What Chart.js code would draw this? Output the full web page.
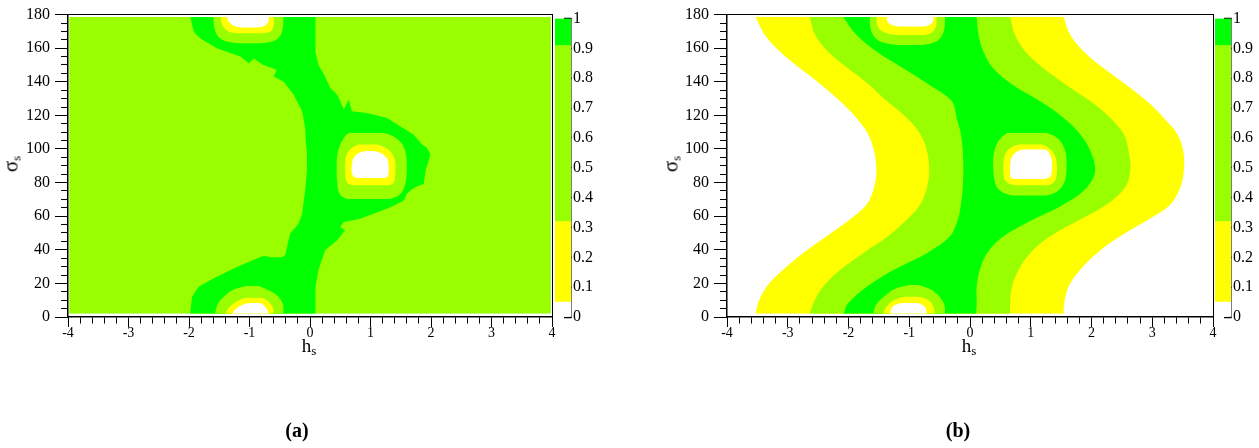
<!DOCTYPE html>
<html lang="en">
<head>
<meta charset="UTF-8">
<title>h_s - sigma_s contours</title>
<script src="https://cdn.jsdelivr.net/npm/chart.js"></script>
<style>
  body { margin: 0; width: 1259px; height: 448px; background: #fff; position: relative; overflow: hidden; }
  canvas { position: absolute; top: 0; }
  .t { position: absolute; font-family: 'Liberation Serif', 'Times New Roman', serif; color: #000; line-height: 1; white-space: nowrap; }
  .sig { font-size: 21px; transform: translate(-50%, -50%) rotate(-90deg); }
  .hs { font-size: 19px; transform: translateX(-50%); }
  .sub { font-size: 13px; position: relative; top: 3px; }
  .cap { font-size: 20px; font-weight: bold; transform: translateX(-50%); }
</style>
</head>
<body>
<canvas id="plotA" width="560" height="345" style="left:0px"></canvas>
<canvas id="barA" width="50" height="345" style="left:555px"></canvas>
<canvas id="plotB" width="562" height="345" style="left:659px"></canvas>
<canvas id="barB" width="50" height="345" style="left:1215px"></canvas>

<div class="t sig" style="left:11px; top:164px">σ<span class="sub">s</span></div>
<div class="t hs" style="left:309px; top:336px">h<span class="sub">s</span></div>
<div class="t sig" style="left:671px; top:164px">σ<span class="sub">s</span></div>
<div class="t hs" style="left:969px; top:336px">h<span class="sub">s</span></div>
<div class="t cap" style="left:297px; top:420px">(a)</div>
<div class="t cap" style="left:958px; top:420px">(b)</div>

<script>
const SERIF = "'Liberation Serif', 'Times New Roman', serif";
const WHITE = '#ffffff', YELLOW = '#ffff00', LIME = '#99ff00', GREEN = '#00ff00';

// colour scale
const levels = [0, 0.05, 0.32, 0.91, 1];
const levelColors = [WHITE, YELLOW, LIME, GREEN];

// ---- panel (a) ----
const aBaseSig = [2, 178.6];
const aBaseL = [-3.98, -3.98];
const aBaseR = [3.98, 3.98];

const aGreenLSig = [2, 12, 18, 23, 28.8, 34.1, 36.5, 35.6, 35.6, 36.8, 41.7, 49.6, 55.5, 61.4, 75.2, 87, 97, 105, 112.6, 122.5, 132.3, 140.2, 143.1, 147.1, 150, 153.9, 151, 155, 159.9, 165.8, 169.7, 178.6];
const aGreenL = [-1.98, -1.95, -1.84, -1.59, -1.26, -0.93, -0.76, -0.66, -0.47, -0.41, -0.38, -0.33, -0.19, -0.13, -0.08, -0.05, -0.05, -0.07, -0.08, -0.13, -0.27, -0.44, -0.60, -0.55, -0.77, -0.93, -1.01, -1.15, -1.54, -1.81, -1.92, -1.98];
const aGreenRSig = [2, 18, 28, 39.8, 45.7, 51.6, 53.5, 56.5, 58.5, 61.4, 65.3, 69.3, 73.3, 76.2, 78.2, 79.2, 87, 92.9, 96.9, 100.8, 102.8, 108.7, 113.6, 118.5, 121.5, 122.5, 129.4, 123.5, 128.4, 132.3, 136.2, 145.1, 150, 157.9, 178.6];
const aGreenR = [0.09, 0.09, 0.14, 0.25, 0.45, 0.58, 0.50, 0.56, 0.83, 1.05, 1.33, 1.55, 1.60, 1.69, 1.80, 1.88, 1.91, 1.96, 1.99, 1.93, 1.85, 1.71, 1.49, 1.27, 0.94, 0.69, 0.64, 0.56, 0.50, 0.45, 0.34, 0.22, 0.14, 0.09, 0.09];

const aMidLimeSig = [70.3, 72, 75, 80, 88, 96, 102, 106, 108.5, 109.6];
const aMidLimeL = [0.61, 0.52, 0.47, 0.45, 0.44, 0.45, 0.49, 0.55, 0.60, 0.66];
const aMidLimeR = [1.33, 1.45, 1.53, 1.58, 1.60, 1.59, 1.54, 1.44, 1.32, 1.20];
const aMidYelSig = [78.2, 79.5, 82, 86, 92, 97, 100, 102, 102.8];
const aMidYelL = [0.72, 0.63, 0.59, 0.58, 0.58, 0.61, 0.67, 0.75, 0.82];
const aMidYelR = [1.30, 1.37, 1.40, 1.41, 1.41, 1.36, 1.28, 1.18, 1.10];
const aMidWhiteSig = [82.7, 83.5, 86, 90, 94, 96.5, 98, 98.8];
const aMidWhiteL = [0.80, 0.72, 0.69, 0.69, 0.71, 0.76, 0.84, 0.92];
const aMidWhiteR = [1.22, 1.28, 1.30, 1.30, 1.28, 1.22, 1.13, 1.05];

const aTopLimeSig = [162.8, 164, 167, 172, 178.6];
const aTopLimeL = [-1.15, -1.38, -1.52, -1.58, -1.60];
const aTopLimeR = [-0.85, -0.62, -0.50, -0.45, -0.44];
const aTopYelSig = [168.7, 170, 174, 178.6];
const aTopYelL = [-1.15, -1.35, -1.45, -1.48];
const aTopYelR = [-0.85, -0.65, -0.60, -0.60];
const aTopWhiteSig = [172.2, 173, 175, 177, 178.6];
const aTopWhiteL = [-1.12, -1.24, -1.32, -1.36, -1.37];
const aTopWhiteR = [-0.88, -0.76, -0.70, -0.68, -0.68];

const aBotLimeSig = [2, 8, 13, 16.5, 18.5];
const aBotLimeL = [-1.57, -1.52, -1.40, -1.25, -1.05];
const aBotLimeR = [-0.44, -0.45, -0.55, -0.72, -0.85];
const aBotYelSig = [2, 6, 9.5, 11.6];
const aBotYelL = [-1.40, -1.33, -1.20, -1.05];
const aBotYelR = [-0.60, -0.62, -0.70, -0.80];
const aBotWhiteSig = [2, 5, 7.5, 8.3];
const aBotWhiteL = [-1.29, -1.22, -1.10, -1.00];
const aBotWhiteR = [-0.68, -0.72, -0.78, -0.85];

// ---- panel (b) ----
const bandSig = [2, 8, 18, 28, 38, 48, 58, 67, 77, 87, 99, 109, 118.5, 128.5, 138, 148, 158, 168, 178.6];
const bYellowL = [-3.53, -3.49, -3.35, -3.08, -2.75, -2.36, -1.98, -1.70, -1.58, -1.54, -1.58, -1.68, -1.87, -2.14, -2.44, -2.80, -3.13, -3.38, -3.53];
const bYellowR = [1.54, 1.55, 1.62, 1.81, 2.09, 2.47, 2.94, 3.30, 3.46, 3.52, 3.51, 3.41, 3.19, 2.91, 2.58, 2.20, 1.87, 1.65, 1.54];
const bLimeL = [-2.64, -2.58, -2.42, -2.14, -1.76, -1.35, -1.04, -0.82, -0.71, -0.67, -0.71, -0.82, -1.04, -1.37, -1.65, -2.01, -2.34, -2.55, -2.64];
const bLimeR = [0.66, 0.66, 0.69, 0.80, 0.99, 1.32, 1.81, 2.25, 2.55, 2.64, 2.61, 2.53, 2.31, 1.98, 1.59, 1.21, 0.91, 0.74, 0.66];
const bGreenL = [-2.08, -2.01, -1.70, -1.26, -0.71, -0.33, -0.20, -0.15, -0.12, -0.11, -0.12, -0.15, -0.22, -0.30, -0.66, -1.10, -1.54, -1.87, -2.09];
const bGreenR = [0.10, 0.11, 0.11, 0.16, 0.28, 0.55, 1.04, 1.54, 1.92, 2.06, 1.98, 1.81, 1.54, 1.15, 0.71, 0.38, 0.22, 0.14, 0.11];

const bMidLimeSig = [72.2, 74, 77, 82, 90, 97, 103, 107, 109.6];
const bMidLimeL = [0.70, 0.55, 0.45, 0.40, 0.38, 0.39, 0.44, 0.52, 0.62];
const bMidLimeR = [1.25, 1.40, 1.50, 1.57, 1.59, 1.58, 1.52, 1.42, 1.26];
const bMidYelSig = [78.2, 79.5, 82, 86, 91, 96, 99.5, 101.8, 102.8];
const bMidYelL = [0.77, 0.64, 0.57, 0.55, 0.55, 0.57, 0.63, 0.72, 0.82];
const bMidYelR = [1.26, 1.36, 1.41, 1.43, 1.43, 1.40, 1.33, 1.25, 1.18];
const bMidWhiteSig = [82.1, 83, 85, 89, 93, 96.5, 98.8, 99.8];
const bMidWhiteL = [0.71, 0.67, 0.66, 0.66, 0.67, 0.71, 0.79, 0.88];
const bMidWhiteR = [1.21, 1.30, 1.34, 1.35, 1.35, 1.32, 1.28, 1.24];

const bTopLimeSig = [161.9, 163.5, 167, 172, 178.6];
const bTopLimeL = [-1.20, -1.45, -1.58, -1.64, -1.65];
const bTopLimeR = [-0.80, -0.58, -0.47, -0.42, -0.41];
const bTopYelSig = [167.8, 169.5, 173, 178.6];
const bTopYelL = [-1.20, -1.42, -1.52, -1.54];
const bTopYelR = [-0.75, -0.62, -0.56, -0.55];
const bTopWhiteSig = [172.7, 174, 176, 178.6];
const bTopWhiteL = [-1.15, -1.30, -1.36, -1.37];
const bTopWhiteR = [-0.78, -0.66, -0.61, -0.60];

const bBotLimeSig = [2, 7, 12, 16.5, 19.1];
const bBotLimeL = [-1.59, -1.55, -1.42, -1.25, -1.00];
const bBotLimeR = [-0.41, -0.42, -0.50, -0.65, -0.85];
const bBotYelSig = [2, 6, 10, 12.2];
const bBotYelL = [-1.43, -1.38, -1.25, -1.05];
const bBotYelR = [-0.58, -0.60, -0.68, -0.85];
const bBotWhiteSig = [2, 6, 8.3];
const bBotWhiteL = [-1.32, -1.28, -1.15];
const bBotWhiteR = [-0.71, -0.74, -0.85];

// a filled region = left edge + right edge, the right one fills back to the left one
function region(lSig, left, rSig, right, color, tension) {
  const edge = (sig, h) => sig.map((s, i) => ({ x: h[i], y: s }));
  return [
    { data: edge(lSig, left), borderWidth: 0, pointRadius: 0, tension: tension, fill: false },
    { data: edge(rSig, right), borderWidth: 0, pointRadius: 0, tension: tension, fill: '-1', backgroundColor: color }
  ];
}

const isInt = v => Math.abs(v - Math.round(v)) < 1e-6;

function plot(id, layers, padRight) {
  // datasets are painted last-to-first, so the top layer goes first
  const datasets = [];
  layers.slice().reverse().forEach(l => datasets.push(...l));
  return new Chart(document.getElementById(id), {
    type: 'line',
    data: { datasets },
    options: {
      indexAxis: 'y',
      responsive: false,
      animation: false,
      events: [],
      layout: { padding: { top: 12, right: padRight, left: 0, bottom: 0 } },
      plugins: { legend: { display: false }, tooltip: { enabled: false } },
      scales: {
        x: {
          type: 'linear', position: 'bottom', min: -4, max: 4,
          afterFit: s => { s.height = 28; },
          border: { color: '#000', width: 1.5 },
          grid: {
            drawOnChartArea: false, tickLength: 10, tickColor: '#000', tickWidth: 1,
            tickBorderDash: c => isInt(c.tick.value) ? [] : [6, 20]
          },
          ticks: {
            stepSize: 0.2, autoSkip: false, maxRotation: 0, padding: -2.5, color: '#000',
            font: { family: SERIF, size: 14 },
            callback: v => isInt(v) ? String(Math.round(v)) : ''
          }
        },
        y: {
          type: 'linear', position: 'left', min: 0, max: 180,
          afterFit: s => { s.width = 68; },
          border: { color: '#000', width: 1.5 },
          grid: {
            drawOnChartArea: false, tickLength: 13, tickColor: '#000', tickWidth: 1,
            tickBorderDash: c => c.tick.value % 20 === 0 ? [] : [0, 6, 7, 0]
          },
          ticks: {
            stepSize: 5, autoSkip: false, padding: 5, color: '#000',
            font: { family: SERIF, size: 16 },
            callback: v => v % 20 === 0 ? String(v) : ''
          }
        },
        x2: {
          type: 'linear', position: 'top', min: -4, max: 4,
          afterFit: s => { s.height = 0; },
          grid: { display: false, drawTicks: false }, ticks: { display: false },
          border: { color: '#000', width: 1, dash: [1, 1] }
        },
        y2: {
          type: 'linear', position: 'right', min: 0, max: 180,
          afterFit: s => { s.width = 0; },
          grid: { display: false, drawTicks: false }, ticks: { display: false },
          border: { color: '#000', width: 1, dash: [1, 1] }
        }
      }
    }
  });
}

function colorBar(id) {
  const datasets = levelColors.map((c, i) => ({
    data: [[levels[i], levels[i + 1]]],
    backgroundColor: c, borderWidth: 0,
    barPercentage: 1, categoryPercentage: 1, grouped: false
  }));
  return new Chart(document.getElementById(id), {
    type: 'bar',
    data: { labels: [''], datasets },
    options: {
      responsive: false,
      animation: false,
      events: [],
      layout: { padding: { top: 12, bottom: 28, left: 0, right: 0 } },
      plugins: { legend: { display: false }, tooltip: { enabled: false } },
      scales: {
        x: { display: false },
        y: {
          type: 'linear', position: 'right', min: 0, max: 1,
          afterFit: s => { s.width = 34; },
          border: { color: '#000', width: 1.5 },
          grid: { drawOnChartArea: false, tickLength: -7, tickColor: '#000', tickWidth: 1.5 },
          ticks: {
            stepSize: 0.1, autoSkip: false, padding: 9, color: '#000',
            font: { family: SERIF, size: 16 },
            callback: v => String(+v.toFixed(1))
          }
        }
      }
    }
  });
}

plot('plotA', [
  region(aBaseSig, aBaseL, aBaseSig, aBaseR, LIME, 0),
  region(aGreenLSig, aGreenL, aGreenRSig, aGreenR, GREEN, 0),
  region(aMidLimeSig, aMidLimeL, aMidLimeSig, aMidLimeR, LIME, 0.35),
  region(aMidYelSig, aMidYelL, aMidYelSig, aMidYelR, YELLOW, 0.35),
  region(aMidWhiteSig, aMidWhiteL, aMidWhiteSig, aMidWhiteR, WHITE, 0.35),
  region(aTopLimeSig, aTopLimeL, aTopLimeSig, aTopLimeR, LIME, 0.35),
  region(aTopYelSig, aTopYelL, aTopYelSig, aTopYelR, YELLOW, 0.35),
  region(aTopWhiteSig, aTopWhiteL, aTopWhiteSig, aTopWhiteR, WHITE, 0.35),
  region(aBotLimeSig, aBotLimeL, aBotLimeSig, aBotLimeR, LIME, 0.35),
  region(aBotYelSig, aBotYelL, aBotYelSig, aBotYelR, YELLOW, 0.35),
  region(aBotWhiteSig, aBotWhiteL, aBotWhiteSig, aBotWhiteR, WHITE, 0.35)
], 8);

plot('plotB', [
  region(bandSig, bYellowL, bandSig, bYellowR, YELLOW, 0.35),
  region(bandSig, bLimeL, bandSig, bLimeR, LIME, 0.35),
  region(bandSig, bGreenL, bandSig, bGreenR, GREEN, 0.35),
  region(bMidLimeSig, bMidLimeL, bMidLimeSig, bMidLimeR, LIME, 0.35),
  region(bMidYelSig, bMidYelL, bMidYelSig, bMidYelR, YELLOW, 0.35),
  region(bMidWhiteSig, bMidWhiteL, bMidWhiteSig, bMidWhiteR, WHITE, 0.35),
  region(bTopLimeSig, bTopLimeL, bTopLimeSig, bTopLimeR, LIME, 0.35),
  region(bTopYelSig, bTopYelL, bTopYelSig, bTopYelR, YELLOW, 0.35),
  region(bTopWhiteSig, bTopWhiteL, bTopWhiteSig, bTopWhiteR, WHITE, 0.35),
  region(bBotLimeSig, bBotLimeL, bBotLimeSig, bBotLimeR, LIME, 0.35),
  region(bBotYelSig, bBotYelL, bBotYelSig, bBotYelR, YELLOW, 0.35),
  region(bBotWhiteSig, bBotWhiteL, bBotWhiteSig, bBotWhiteR, WHITE, 0.35)
], 8);

colorBar('barA');
colorBar('barB');
</script>
</body>
</html>
